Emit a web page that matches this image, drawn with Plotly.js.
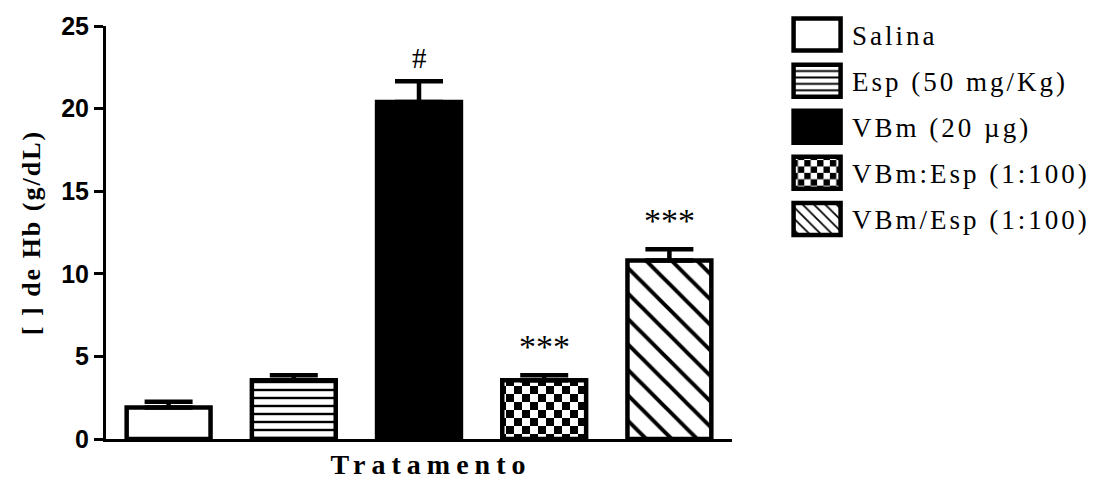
<!DOCTYPE html>
<html>
<head>
<meta charset="utf-8">
<script src="https://cdn.plot.ly/plotly-3.0.1.min.js"></script>
<style>
  html, body { margin: 0; padding: 0; background: #fff; }
  #chart { width: 1110px; height: 481px; }
  .xtitle { letter-spacing: 6px; transform: translateX(12px); }
  .ytitle { letter-spacing: 2px; }
  .legendtext { letter-spacing: 3px; }
</style>
</head>
<body>
<div id="chart"></div>
<script>
// ---- data ----
const categories = ["Salina", "Esp (50 mg/Kg)", "VBm (20 \u00b5g)", "VBm:Esp (1:100)", "VBm/Esp (1:100)"];
const values = [1.9, 3.56, 20.4, 3.56, 10.8];
const errors = [0.36, 0.3, 1.25, 0.3, 0.68];
const marks = ["", "", "#", "***", "***"];
const yTicks = [0, 5, 10, 15, 20, 25];

// ---- styles ----
const patterns = [
  { shape: "", fillmode: "replace", bgcolor: "#ffffff", fgcolor: "#000000" },
  { shape: "-", size: 8, solidity: 0.3, fillmode: "replace", bgcolor: "#ffffff", fgcolor: "#000000" },
  { shape: "", fillmode: "replace", bgcolor: "#000000", fgcolor: "#000000" },
  { shape: ".", size: 16, solidity: 0.3, fillmode: "replace", bgcolor: "#ffffff", fgcolor: "#000000" },
  { shape: "\\", size: 18, solidity: 0.22, fillmode: "replace", bgcolor: "#ffffff", fgcolor: "#000000" }
];
const fills = ["#ffffff", "#ffffff", "#000000", "#ffffff", "#ffffff"];

const traces = categories.map((c, i) => ({
  type: "bar",
  name: c,
  x: [i],
  y: [values[i]],
  width: 0.67,
  legendgroup: "g" + i,
  marker: {
    color: fills[i],
    line: { color: "#000000", width: 4.5 },
    pattern: patterns[i]
  },
  error_y: {
    type: "data", symmetric: false, array: [errors[i]], arrayminus: [0],
    color: "#000000", thickness: 4.5, width: 24
  },
  hoverinfo: "skip"
}));

const annotations = marks.map((m, i) => ({
  x: i, y: values[i] + errors[i], xref: "x", yref: "y",
  text: m, showarrow: false, yanchor: "bottom",
  yshift: m === "#" ? 5 : 8,
  font: m === "#" ? { family: "Liberation Serif, Times New Roman, serif", size: 29, color: "#000" }
                  : { family: "Liberation Serif, Times New Roman, serif", size: 34, color: "#000" }
})).filter(a => a.text !== "");

const layout = {
  width: 1110, height: 481,
  margin: { l: 106, r: 378, t: 25, b: 42 },
  paper_bgcolor: "#ffffff", plot_bgcolor: "#ffffff",
  barmode: "overlay",
  showlegend: true,
  legend: {
    x: 1.08, xanchor: "left", y: 1.035, yanchor: "top",
    traceorder: "grouped", tracegroupgap: 8,
    itemwidth: 60, itemclick: false,
    font: { family: "Liberation Serif, Times New Roman, serif", size: 27, color: "#000" },
    bgcolor: "rgba(0,0,0,0)"
  },
  xaxis: {
    range: [-0.5, 4.5], showgrid: false, zeroline: false,
    showline: true, linecolor: "#000", linewidth: 3,
    ticks: "", showticklabels: false, fixedrange: true,
    title: { text: "Tratamento", standoff: 14,
      font: { family: "Liberation Serif, Times New Roman, serif", size: 28, weight: "bold", color: "#000" } }
  },
  yaxis: {
    range: [0, 25], showgrid: false, zeroline: false,
    showline: true, linecolor: "#000", linewidth: 3,
    ticks: "outside", ticklen: 9, tickwidth: 3, tickcolor: "#000",
    tickvals: yTicks, ticktext: yTicks.map(String),
    tickfont: { family: "Liberation Sans, Arial, sans-serif", size: 25, weight: "bold", color: "#000" },
    fixedrange: true,
    title: { text: "[ ] de Hb (g/dL)", standoff: 14,
      font: { family: "Liberation Serif, Times New Roman, serif", size: 26, weight: "bold", color: "#000" } }
  },
  annotations: annotations
};

Plotly.newPlot("chart", traces, layout, { displayModeBar: false, staticPlot: true }).then(() => {
  const ns = "http://www.w3.org/2000/svg";
  // checkerboard pattern from the dot pattern
  document.querySelectorAll("pattern").forEach(p => {
    const circ = p.querySelector("circle");
    if (!circ) return;
    const s = 16;
    p.setAttribute("width", s);
    p.setAttribute("height", s);
    while (p.firstChild) p.removeChild(p.firstChild);
    const bg = document.createElementNS(ns, "rect");
    bg.setAttribute("x", 0); bg.setAttribute("y", 0);
    bg.setAttribute("width", s); bg.setAttribute("height", s);
    bg.setAttribute("fill", "#ffffff");
    p.appendChild(bg);
    [[0, 0], [s / 2, s / 2]].forEach(([x, y]) => {
      const r = document.createElementNS(ns, "rect");
      r.setAttribute("x", x); r.setAttribute("y", y);
      r.setAttribute("width", s / 2); r.setAttribute("height", s / 2);
      r.setAttribute("fill", "#000000");
      p.appendChild(r);
    });
  });
  // larger legend boxes
  document.querySelectorAll(".legend .legendpoints path").forEach(path => {
    path.setAttribute("d", "M23.5,16H-23.5V-16H23.5Z");
    path.style.strokeWidth = "4.5px";
  });
});
</script>
</body>
</html>
